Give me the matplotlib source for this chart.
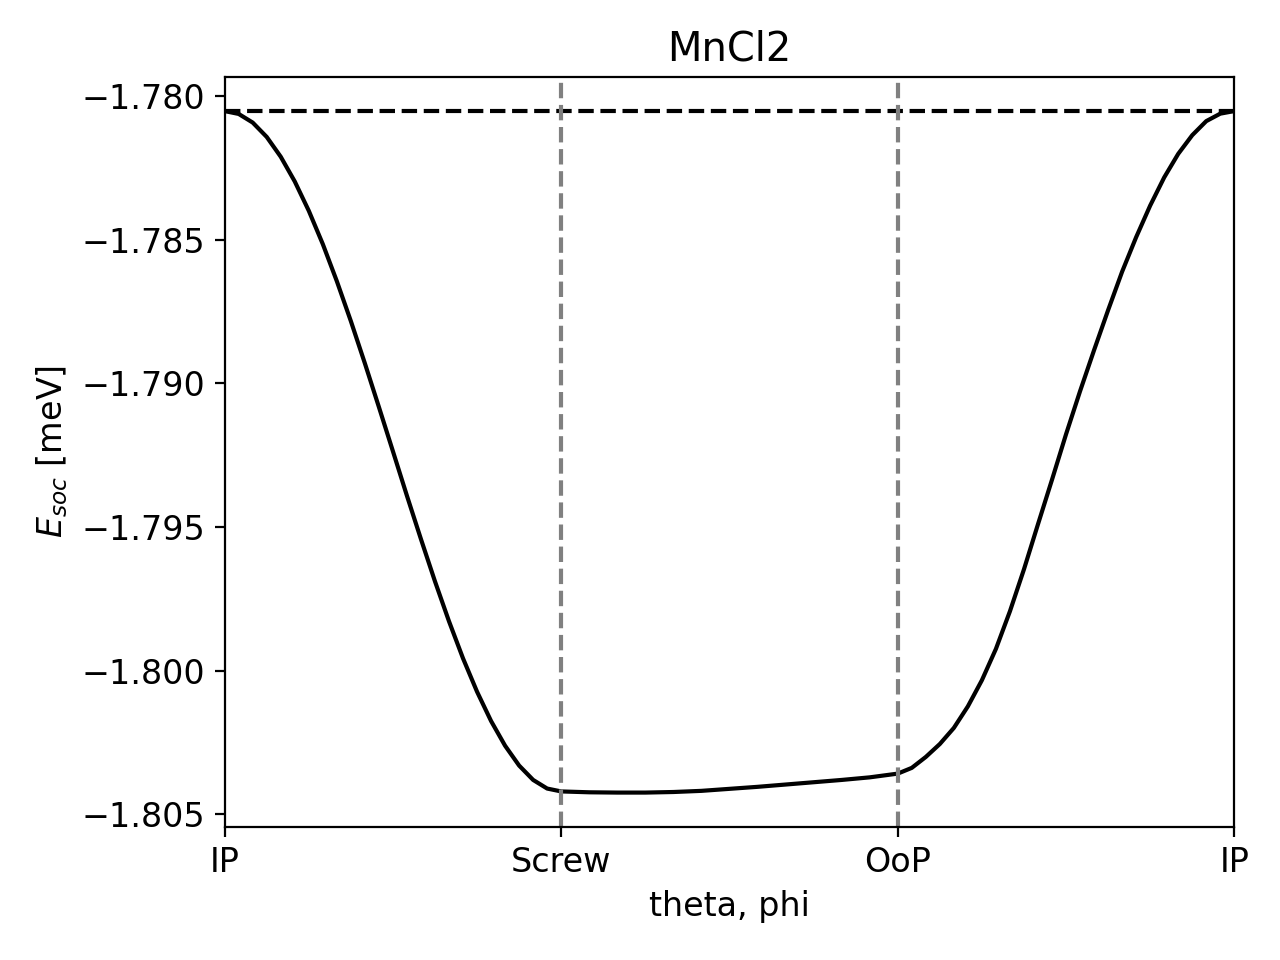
import numpy as np
import matplotlib
matplotlib.use("Agg")
from matplotlib import pyplot as plt

plt.rcParams["font.size"] = 12

# E_soc, in meV
# IP -> Screw (25 points, evenly spaced)
e_ip_screw = [-1.78052, -1.78062, -1.78092, -1.78142, -1.78211, -1.78297, -1.78399,
              -1.78515, -1.78644, -1.78783, -1.78930, -1.79082, -1.79236, -1.79391,
              -1.79542, -1.79689, -1.79828, -1.79957, -1.80073, -1.80175, -1.80261,
              -1.80330, -1.80380, -1.80410, -1.80420]
# Screw -> OoP (13 points)
e_screw_oop = [-1.80420, -1.80423, -1.80424, -1.80424, -1.80422, -1.80418, -1.80411,
               -1.80404, -1.80396, -1.80388, -1.80380, -1.80371, -1.80358]
# OoP -> IP (25 points)
e_oop_ip = [-1.80358, -1.80338, -1.80300, -1.80255, -1.80199, -1.80124, -1.80033,
            -1.79924, -1.79793, -1.79647, -1.79490, -1.79335, -1.79177, -1.79027,
            -1.78884, -1.78745, -1.78611, -1.78491, -1.78381, -1.78283, -1.78201,
            -1.78136, -1.78087, -1.78061, -1.78052]

e_ip = -1.78052
tick_labels = ["IP", "Screw", "OoP", "IP"]

x1 = np.linspace(0, 1, len(e_ip_screw))
x2 = np.linspace(1, 2, len(e_screw_oop))
x3 = np.linspace(2, 3, len(e_oop_ip))
x = np.concatenate([x1, x2[1:], x3[1:]])
e = np.concatenate([e_ip_screw, e_screw_oop[1:], e_oop_ip[1:]])

fig, ax = plt.subplots(figsize=(6.4, 4.8), dpi=200)
ax.plot(x, e, color="k")
ax.axhline(e_ip, color="k", linestyle="--")
for xv in [1, 2]:
    ax.axvline(xv, color="gray", linestyle="--")

ax.set_xlim(0, 3)
ax.set_xticks([0, 1, 2, 3])
ax.set_xticklabels(tick_labels)
ax.set_xlabel("theta, phi")
ax.set_ylabel(r"$E_{soc}$ [meV]")
ax.set_title("MnCl2")

fig.subplots_adjust(left=0.1755, right=0.9643, top=0.9198, bottom=0.1389)
plt.savefig("out.png", dpi=200)
